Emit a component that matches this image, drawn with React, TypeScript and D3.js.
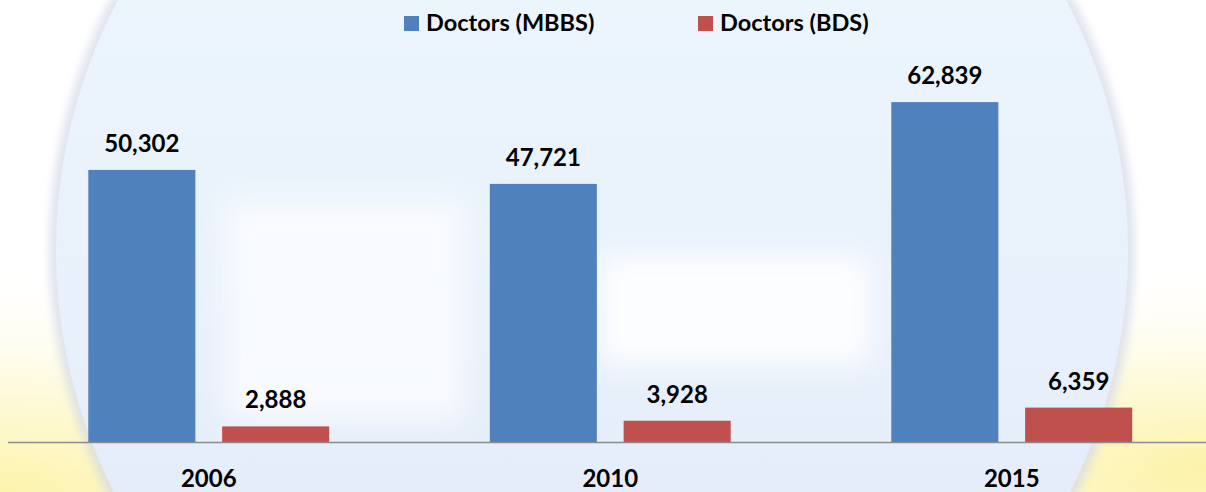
import React from "react";
import * as d3 from "d3";

const years = ["2006", "2010", "2015"];
const seriesNames = ["Doctors (MBBS)", "Doctors (BDS)"];
const mbbs = [50302, 47721, 62839];
const bds = [2888, 3928, 6359];
const colors = ["#4f81bd", "#c0504d"];

const W = 1206;
const H = 492;
const FONT = "Lato, 'Open Sans', sans-serif";

export default function App() {
  const x0 = d3
    .scaleBand<string>()
    .domain(years)
    .range([8, 8 + 3 * 401.5])
    .paddingInner(0.4)
    .paddingOuter(0.2);
  const x1 = d3
    .scaleBand<string>()
    .domain(seriesNames)
    .range([0, x0.bandwidth()])
    .paddingInner(0.2)
    .paddingOuter(0);
  const y = d3.scaleLinear().domain([0, 70000]).range([442, 442 - 70000 * 0.005409]);
  const fmt = d3.format(",");
  const values = [mbbs, bds];

  return (
    <svg
      width={W}
      height={H}
      style={{ position: "absolute", left: 0, top: 0, display: "block" }}
    >
      <defs>
        <radialGradient id="ylBL" cx="0" cy="1" r="0.45">
          <stop offset="0" stopColor="#fcf3a6" stopOpacity="0.85" />
          <stop offset="1" stopColor="#fffbe0" stopOpacity="0" />
        </radialGradient>
        <radialGradient id="ylBR" cx="1" cy="0.95" r="0.4">
          <stop offset="0" stopColor="#fcf1a0" stopOpacity="0.85" />
          <stop offset="1" stopColor="#fffbe0" stopOpacity="0" />
        </radialGradient>
        <linearGradient id="ylBottom" x1="0" y1="0" x2="0" y2="1">
          <stop offset="0.7" stopColor="#fff8c8" stopOpacity="0" />
          <stop offset="1" stopColor="#fdf3b0" stopOpacity="0.6" />
        </linearGradient>
        <linearGradient id="circ" x1="0" y1="0" x2="0" y2="1">
          <stop offset="0" stopColor="#eef9fd" />
          <stop offset="0.6" stopColor="#e8f0fb" />
          <stop offset="1" stopColor="#dde6f7" />
        </linearGradient>
        <filter id="blur12" x="-30%" y="-30%" width="160%" height="160%">
          <feGaussianBlur stdDeviation="14" />
        </filter>
        <filter id="blur4" x="-20%" y="-20%" width="140%" height="140%">
          <feGaussianBlur stdDeviation="4" />
        </filter>
      </defs>

      {/* decorative background */}
      <rect x={0} y={0} width={W} height={H} fill="#ffffff" />
      <rect x={0} y={0} width={W} height={H} fill="url(#ylBottom)" />
      <rect x={0} y={0} width={W} height={H} fill="url(#ylBL)" />
      <rect x={0} y={0} width={W} height={H} fill="url(#ylBR)" />
      <circle cx={592} cy={250} r={543} fill="#d4d9e8" filter="url(#blur4)" opacity={0.7} />
      <circle cx={592} cy={250} r={536} fill="url(#circ)" />
      <rect x={225} y={200} width={240} height={220} fill="#ffffff" opacity={0.7} filter="url(#blur12)" />
      <rect x={600} y={255} width={270} height={110} fill="#ffffff" opacity={0.9} filter="url(#blur12)" />

      {/* bars */}
      {years.map((yr, i) => (
        <g key={yr} transform={`translate(${x0(yr)},0)`}>
          {seriesNames.map((s, k) => {
            const v = values[k][i];
            const bx = x1(s)!;
            return (
              <g key={s}>
                <rect
                  x={bx}
                  y={y(v)}
                  width={x1.bandwidth()}
                  height={y(0) - y(v)}
                  fill={colors[k]}
                />
                <text
                  x={bx + x1.bandwidth() / 2}
                  y={y(v) - 18}
                  textAnchor="middle"
                  fontFamily={FONT}
                  fontWeight={700}
                  fontSize={24}
                  fill="#000"
                >
                  {fmt(v)}
                </text>
              </g>
            );
          })}
          <text
            x={x0.bandwidth() / 2}
            y={487}
            textAnchor="middle"
            fontFamily={FONT}
            fontWeight={700}
            fontSize={24}
            fill="#000"
          >
            {yr}
          </text>
        </g>
      ))}

      {/* axis line */}
      <line x1={8} x2={W} y1={y(0) + 0.5} y2={y(0) + 0.5} stroke="#8c8c8c" strokeWidth={1.5} />

      {/* legend */}
      {seriesNames.map((s, k) => {
        const lx = [404, 698][k];
        return (
          <g key={s}>
            <rect x={lx} y={16} width={15} height={15} fill={colors[k]} />
            <text
              x={lx + 22}
              y={31}
              fontFamily={FONT}
              fontWeight={700}
              fontSize={23.5}
              fill="#000"
            >
              {s}
            </text>
          </g>
        );
      })}
    </svg>
  );
}
